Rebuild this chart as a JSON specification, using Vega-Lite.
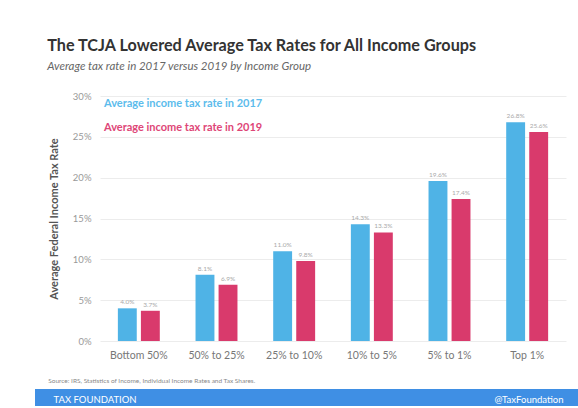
{
  "$schema": "https://vega.github.io/schema/vega-lite/v6.json",
  "padding": {"left": 32, "right": 0, "top": 38, "bottom": 0},
  "background": "white",
  "title": {
    "text": "The TCJA Lowered Average Tax Rates for All Income Groups",
    "subtitle": "Average tax rate in 2017 versus 2019 by Income Group",
    "anchor": "start",
    "frame": "bounds",
    "dx": 15,
    "font": "Lato",
    "fontSize": 16.2,
    "fontWeight": "bold",
    "color": "#333333",
    "subtitleFont": "Lato",
    "subtitleFontSize": 11.5,
    "subtitleFontStyle": "italic",
    "subtitleColor": "#666666",
    "subtitlePadding": 6,
    "offset": 19
  },
  "spacing": 16,
  "resolve": {"legend": {"color": "independent"}},
  "vconcat": [
    {
      "width": 531,
      "height": 245,
      "data": {
        "values": [
          {"group": "Bottom 50%", "series": "Average income tax rate in 2017", "rate": 0.040},
          {"group": "Bottom 50%", "series": "Average income tax rate in 2019", "rate": 0.037},
          {"group": "50% to 25%", "series": "Average income tax rate in 2017", "rate": 0.081},
          {"group": "50% to 25%", "series": "Average income tax rate in 2019", "rate": 0.069},
          {"group": "25% to 10%", "series": "Average income tax rate in 2017", "rate": 0.110},
          {"group": "25% to 10%", "series": "Average income tax rate in 2019", "rate": 0.098},
          {"group": "10% to 5%", "series": "Average income tax rate in 2017", "rate": 0.143},
          {"group": "10% to 5%", "series": "Average income tax rate in 2019", "rate": 0.133},
          {"group": "5% to 1%", "series": "Average income tax rate in 2017", "rate": 0.196},
          {"group": "5% to 1%", "series": "Average income tax rate in 2019", "rate": 0.174},
          {"group": "Top 1%", "series": "Average income tax rate in 2017", "rate": 0.268},
          {"group": "Top 1%", "series": "Average income tax rate in 2019", "rate": 0.256}
        ]
      },
      "encoding": {
        "x": {
          "field": "group",
          "type": "nominal",
          "sort": ["Bottom 50%", "50% to 25%", "25% to 10%", "10% to 5%", "5% to 1%", "Top 1%"],
          "scale": {"range": [65, 531], "paddingInner": 0.46, "paddingOuter": 0.23},
          "axis": {
            "title": null,
            "labelAngle": 0,
            "labelFont": "Lato",
            "labelFontSize": 10.5,
            "labelColor": "#777777",
            "labelPadding": 9,
            "ticks": false,
            "domain": false
          }
        },
        "xOffset": {
          "field": "series",
          "type": "nominal",
          "scale": {"paddingInner": 0.18}
        },
        "y": {
          "field": "rate",
          "type": "quantitative",
          "scale": {"domain": [0, 0.3]},
          "axis": {
            "title": "Average Federal Income Tax Rate",
            "titleFont": "Lato",
            "titleFontSize": 11,
            "titleFontWeight": "bold",
            "titleColor": "#555555",
            "titlePadding": 13,
            "offset": -65,
            "values": [0, 0.05, 0.1, 0.15, 0.2, 0.25, 0.3],
            "format": ".0%",
            "labelFont": "Lato",
            "labelFontSize": 9.5,
            "labelColor": "#999999",
            "labelPadding": 9,
            "ticks": false,
            "domain": false,
            "gridColor": "#ececec"
          }
        }
      },
      "layer": [
        {
          "mark": {"type": "bar"},
          "encoding": {
            "color": {
              "field": "series",
              "type": "nominal",
              "scale": {
                "domain": ["Average income tax rate in 2017", "Average income tax rate in 2019"],
                "range": ["#4fb3e6", "#d93a6c"]
              },
              "legend": {
                "orient": "none",
                "legendX": 58,
                "legendY": 2,
                "title": null,
                "padding": 0,
                "symbolSize": 0,
                "symbolStrokeWidth": 0,
                "symbolOpacity": 0,
                "labelOffset": 0,
                "labelFont": "Lato",
                "labelFontSize": 11,
                "labelFontWeight": "bold",
                "labelLimit": 400,
                "labelColor": {"expr": "datum.value == 'Average income tax rate in 2017' ? '#5cbcec' : '#de4677'"},
                "rowPadding": 12
              }
            }
          }
        },
        {
          "mark": {"type": "text", "baseline": "bottom", "dy": -3, "font": "Lato", "fontSize": 6.5, "color": "#aaaaaa"},
          "encoding": {
            "text": {"field": "rate", "type": "quantitative", "format": ".1%"}
          }
        }
      ]
    },
    {
      "width": 546,
      "height": 17,
      "view": {"fill": "#3f8fe4", "stroke": null},
      "title": {
        "text": "Source: IRS, Statistics of Income, Individual Income Rates and Tax Shares.",
        "anchor": "start",
        "frame": "bounds",
        "dx": 16,
        "font": "Lato",
        "fontSize": 6.5,
        "fontWeight": "normal",
        "color": "#888888",
        "offset": 5
      },
      "data": {"values": [{"org": "TAX FOUNDATION"}, {"org": "@TaxFoundation"}]},
      "mark": {"type": "point", "opacity": 0},
      "encoding": {
        "x": {
          "field": "org",
          "type": "nominal",
          "scale": {"type": "point", "padding": 0, "domain": ["TAX FOUNDATION", "@TaxFoundation"]},
          "axis": {
            "title": null,
            "labelFlush": true,
            "labelFlushOffset": -18,
            "labelColor": "white",
            "labelFont": "Lato",
            "labelFontSize": 9.5,
            "labelPadding": -7,
            "labelBaseline": "middle",
            "labelAngle": 0,
            "ticks": false,
            "tickSize": 0,
            "domain": false,
            "grid": false
          }
        }
      }
    }
  ],
  "config": {
    "view": {"stroke": null},
    "axis": {"labelFont": "Lato", "titleFont": "Lato"}
  }
}
